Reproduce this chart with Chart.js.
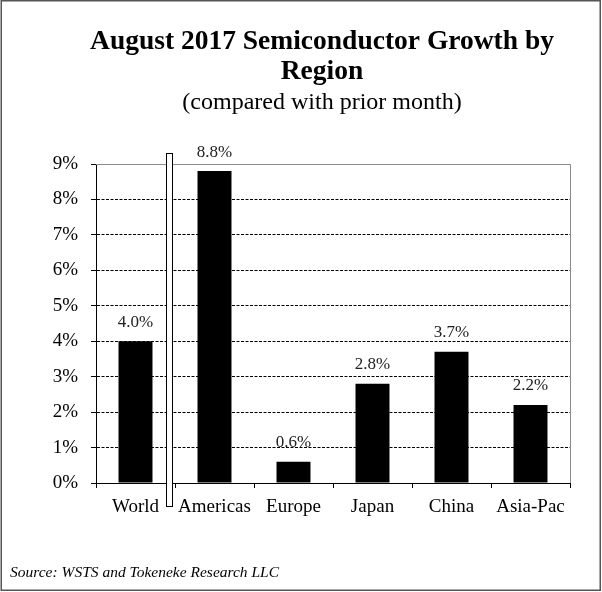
<!DOCTYPE html>
<html>
<head>
<meta charset="utf-8">
<script src="https://cdn.jsdelivr.net/npm/chart.js@4"></script>
<style>
    body { margin: 0; background: #fff; }
    #wrap { width: 602px; height: 592px; }
</style>
</head>
<body>
<div id="wrap"><canvas id="growthChart"></canvas></div>
<script>
const regions = ['World', 'Americas', 'Europe', 'Japan', 'China', 'Asia-Pac'];
const growth = [4.0, 8.8, 0.6, 2.8, 3.7, 2.2];
const yTicks = ['0%', '1%', '2%', '3%', '4%', '5%', '6%', '7%', '8%', '9%'];
const titleLines = ['August 2017 Semiconductor Growth by', 'Region'];
const subtitle = '(compared with prior month)';
const sourceNote = 'Source: WSTS and Tokeneke Research LLC';

const serif = "'Liberation Serif', 'Times New Roman', serif";

// frame, titles, plot border, World/regions divider, value labels, source note
const decorations = {
    id: 'decorations',
    beforeDatasetsDraw(chart) {
        const { ctx, chartArea: a } = chart;
        ctx.save();
        ctx.strokeStyle = '#8c8c8c';
        ctx.lineWidth = 1;
        ctx.beginPath();
        ctx.moveTo(a.left, a.top + 0.5);
        ctx.lineTo(a.right + 0.5, a.top + 0.5);
        ctx.lineTo(a.right + 0.5, a.bottom);
        ctx.stroke();
        ctx.restore();
    },
    afterDatasetsDraw(chart) {
        const { ctx, chartArea: a } = chart;
        const x = chart.scales.x;
        const y = chart.scales.y;
        const meta = chart.getDatasetMeta(0);

        ctx.save();
        ctx.textAlign = 'center';
        ctx.textBaseline = 'middle';

        ctx.fillStyle = '#000';
        ctx.font = 'bold 27.5px ' + serif;
        titleLines.forEach((line, i) => ctx.fillText(line, 322, 42 + i * 30));
        ctx.font = '24px ' + serif;
        ctx.fillText(subtitle, 322, 103);

        ctx.font = '17px ' + serif;
        ctx.fillStyle = '#222';
        meta.data.forEach((bar, i) => {
            ctx.fillText(growth[i].toFixed(1) + '%', bar.x, bar.y - 19);
        });

        // divider between World and the regions
        const edge = (x.getPixelForValue(0) + x.getPixelForValue(1)) / 2;
        const top = y.getPixelForValue(9) - 11;
        const bottom = a.bottom + 24;
        ctx.fillStyle = '#fff';
        ctx.strokeStyle = '#000';
        ctx.lineWidth = 1;
        ctx.fillRect(edge - 9, top, 7, bottom - top);
        ctx.strokeRect(edge - 8.5, top + 0.5, 6, bottom - top - 1);

        ctx.font = 'italic 15.5px ' + serif;
        ctx.fillStyle = '#000';
        ctx.textAlign = 'left';
        ctx.fillText(sourceNote, 10, 573);

        ctx.strokeStyle = '#555';
        ctx.lineWidth = 1.5;
        ctx.strokeRect(1.25, 0.75, chart.width - 3, chart.height - 2.5);
        ctx.restore();
    }
};

new Chart(document.getElementById('growthChart').getContext('2d'), {
    type: 'bar',
    data: {
        labels: regions,
        datasets: [{
            data: growth,
            backgroundColor: '#000',
            borderWidth: 0,
            barPercentage: 0.43,
            categoryPercentage: 1
        }]
    },
    options: {
        responsive: true,
        maintainAspectRatio: false,
        animation: false,
        layout: {
            padding: { left: 0, right: 32, top: 164, bottom: 0 }
        },
        plugins: {
            legend: { display: false },
            tooltip: { enabled: false },
            title: { display: false }
        },
        scales: {
            x: {
                afterFit: scale => { scale.height = 109; },
                grid: {
                    drawOnChartArea: false,
                    drawTicks: true,
                    tickLength: 5,
                    color: '#000'
                },
                border: { color: '#000', width: 1 },
                ticks: {
                    color: '#000',
                    padding: 8,
                    font: { family: serif, size: 19 }
                }
            },
            y: {
                min: 0,
                max: 9,
                afterFit: scale => { scale.width = 96; },
                grid: {
                    color: '#000',
                    tickLength: 5
                },
                border: { color: '#000', width: 1, dash: [3, 1.5] },
                ticks: {
                    stepSize: 1,
                    color: '#000',
                    padding: 13,
                    font: { family: serif, size: 19 },
                    callback: (value, i) => yTicks[i]
                }
            }
        }
    },
    plugins: [decorations]
});
</script>
</body>
</html>
